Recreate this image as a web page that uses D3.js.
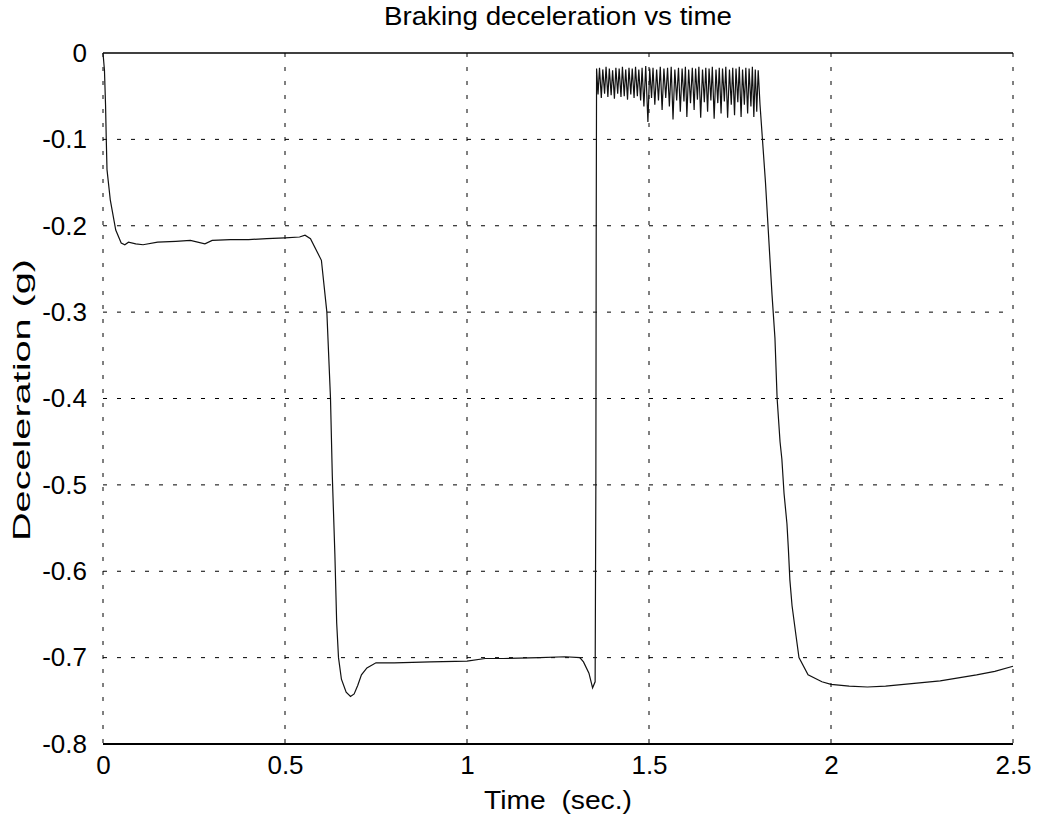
<!DOCTYPE html>
<html>
<head>
<meta charset="utf-8">
<script src="https://cdn.jsdelivr.net/npm/d3@7"></script>
<style>
  html, body { margin: 0; padding: 0; background: #fff; }
  svg { display: block; }
  text { font-family: "Liberation Sans", Arial, Helvetica, sans-serif; fill: #000; }
</style>
</head>
<body>
<svg id="chart" width="1038" height="820"></svg>
<script>
// ---- data (time in seconds, deceleration in g) ----
const title = "Braking deceleration vs time";
const xLabel = "Time  (sec.)";
const yLabel = "Deceleration (g)";
const xTicks = [0, 0.5, 1, 1.5, 2, 2.5];
const xTickLabels = ["0", "0.5", "1", "1.5", "2", "2.5"];
const yTicks = [0, -0.1, -0.2, -0.3, -0.4, -0.5, -0.6, -0.7, -0.8];
const yTickLabels = ["0", "-0.1", "-0.2", "-0.3", "-0.4", "-0.5", "-0.6", "-0.7", "-0.8"];

// initial brake application and first plateau
const firstPhase = [
  [0, 0], [0.004, -0.02], [0.007, -0.06], [0.009, -0.1], [0.011, -0.135],
  [0.02, -0.17], [0.035, -0.205], [0.05, -0.22], [0.06, -0.222], [0.07, -0.219],
  [0.09, -0.221], [0.11, -0.222], [0.15, -0.219], [0.2, -0.218], [0.24, -0.217],
  [0.28, -0.221], [0.3, -0.217], [0.35, -0.216], [0.4, -0.216], [0.45, -0.215],
  [0.5, -0.214], [0.54, -0.213], [0.555, -0.211], [0.57, -0.215]
];
// full braking, second plateau and release
const secondPhase = [
  [0.6, -0.24], [0.615, -0.3], [0.625, -0.4], [0.63, -0.49], [0.637, -0.58],
  [0.642, -0.66], [0.647, -0.70], [0.655, -0.725], [0.668, -0.74], [0.68, -0.745],
  [0.69, -0.742], [0.7, -0.732], [0.71, -0.72], [0.725, -0.712], [0.75, -0.706],
  [0.8, -0.706], [0.9, -0.705], [1.0, -0.704], [1.05, -0.701], [1.1, -0.701],
  [1.2, -0.700], [1.27, -0.699], [1.31, -0.700], [1.32, -0.705], [1.335, -0.718],
  [1.345, -0.735], [1.352, -0.728], [1.354, -0.5], [1.355, -0.2]
];
// chatter while released
const chatterPhase = [
  [1.356,-0.018],[1.360,-0.048],[1.364,-0.017],[1.369,-0.052],[1.373,-0.019],[1.378,-0.047],
  [1.382,-0.016],[1.387,-0.051],[1.391,-0.018],[1.396,-0.049],[1.400,-0.020],[1.405,-0.053],
  [1.409,-0.017],[1.414,-0.047],[1.418,-0.018],[1.423,-0.051],[1.427,-0.016],[1.432,-0.050],
  [1.436,-0.019],[1.441,-0.054],[1.445,-0.017],[1.450,-0.048],[1.454,-0.018],[1.459,-0.052],
  [1.463,-0.016],[1.468,-0.050],[1.472,-0.019],[1.477,-0.055],[1.481,-0.017],[1.486,-0.062],
  [1.491,-0.015],[1.497,-0.080],[1.502,-0.018],[1.507,-0.052],[1.511,-0.017],[1.516,-0.060],
  [1.521,-0.019],[1.526,-0.055],[1.531,-0.016],[1.536,-0.066],[1.541,-0.018],[1.546,-0.052],
  [1.551,-0.017],[1.556,-0.062],[1.561,-0.016],[1.566,-0.077],[1.571,-0.019],[1.576,-0.055],
  [1.581,-0.017],[1.586,-0.068],[1.591,-0.018],[1.596,-0.056],[1.600,-0.016],[1.604,-0.074],
  [1.609,-0.019],[1.614,-0.058],[1.619,-0.017],[1.624,-0.066],[1.628,-0.018],[1.633,-0.054],
  [1.637,-0.016],[1.642,-0.075],[1.647,-0.019],[1.652,-0.057],[1.656,-0.017],[1.661,-0.068],
  [1.665,-0.018],[1.670,-0.055],[1.674,-0.016],[1.679,-0.076],[1.684,-0.019],[1.689,-0.058],
  [1.693,-0.017],[1.698,-0.070],[1.702,-0.018],[1.707,-0.056],[1.711,-0.016],[1.716,-0.075],
  [1.721,-0.019],[1.726,-0.060],[1.730,-0.017],[1.735,-0.072],[1.739,-0.018],[1.744,-0.057],
  [1.748,-0.016],[1.753,-0.074],[1.757,-0.019],[1.762,-0.060],[1.766,-0.017],[1.771,-0.070],
  [1.775,-0.018],[1.780,-0.062],[1.784,-0.016],[1.788,-0.074],[1.792,-0.019],[1.796,-0.068],
  [1.800,-0.020]
];
// final brake application
const thirdPhase = [
  [1.805, -0.06], [1.82, -0.15], [1.838, -0.28], [1.846, -0.33], [1.852, -0.40],
  [1.86, -0.45], [1.865, -0.47], [1.871, -0.51], [1.879, -0.545], [1.883, -0.575],
  [1.887, -0.61], [1.893, -0.64], [1.904, -0.675], [1.912, -0.70], [1.937, -0.72],
  [1.975, -0.728], [2.0, -0.731], [2.05, -0.733], [2.1, -0.734], [2.15, -0.733],
  [2.2, -0.731], [2.3, -0.727], [2.4, -0.72], [2.45, -0.716], [2.5, -0.71]
];

// ---- drawing ----
const svg = d3.select("#chart");
const x = d3.scaleLinear().domain([0, 2.5]).range([103, 1013]);
const y = d3.scaleLinear().domain([-0.8, 0]).range([744, 53]);

// grid
const grid = svg.append("g");
grid.selectAll("line.h").data(yTicks.filter(v => v !== 0 && v !== -0.8)).enter().append("line")
  .attr("x1", x(0)).attr("x2", x(2.5)).attr("y1", d => y(d)).attr("y2", d => y(d))
  .attr("stroke", "#000").attr("stroke-width", 1).attr("stroke-dasharray", "4,10");
grid.selectAll("line.v").data(xTicks).enter().append("line")
  .attr("y1", y(0)).attr("y2", y(-0.8)).attr("x1", d => x(d)).attr("x2", d => x(d))
  .attr("stroke", "#000").attr("stroke-width", 1).attr("stroke-dasharray", "4,10");

// top and bottom frame lines
svg.append("line").attr("x1", x(0)).attr("x2", x(2.5)).attr("y1", y(0)).attr("y2", y(0))
  .attr("stroke", "#000").attr("stroke-width", 1.5);
svg.append("line").attr("x1", x(0)).attr("x2", x(2.5)).attr("y1", y(-0.8)).attr("y2", y(-0.8))
  .attr("stroke", "#000").attr("stroke-width", 2);

// data line
const allPts = firstPhase.concat(secondPhase, chatterPhase, thirdPhase);
const line = d3.line().x(d => x(d[0])).y(d => y(d[1]));
svg.append("path").datum(allPts).attr("d", line)
  .attr("fill", "none").attr("stroke", "#111").attr("stroke-width", 1.2);

// tick labels
const yAxis = d3.axisLeft(y).tickValues(yTicks).tickFormat((d, i) => yTickLabels[i]).tickSize(0).tickPadding(16);
const ga = svg.append("g").attr("transform", `translate(${x(0)},0)`).call(yAxis);
ga.select(".domain").remove();
ga.selectAll("text").style("font-size", "26px").attr("font-family", null);

const xAxis = d3.axisBottom(x).tickValues(xTicks).tickFormat((d, i) => xTickLabels[i]).tickSize(0).tickPadding(12);
const gx = svg.append("g").attr("transform", `translate(0,${y(-0.8)})`).call(xAxis);
gx.select(".domain").remove();
gx.selectAll("text").style("font-size", "26px").attr("font-family", null);

// titles
svg.append("text").attr("x", 558).attr("y", 25).attr("text-anchor", "middle")
  .attr("textLength", 348).attr("lengthAdjust", "spacingAndGlyphs")
  .style("font-size", "25px").text(title);
svg.append("text").attr("x", 558).attr("y", 809).attr("text-anchor", "middle")
  .attr("textLength", 148).attr("lengthAdjust", "spacingAndGlyphs")
  .style("font-size", "25px").style("white-space", "pre").text(xLabel);
svg.append("text").attr("transform", "translate(30,400) rotate(-90)").attr("text-anchor", "middle")
  .attr("textLength", 282).attr("lengthAdjust", "spacingAndGlyphs")
  .style("font-size", "24px").text(yLabel);
</script>
</body>
</html>
